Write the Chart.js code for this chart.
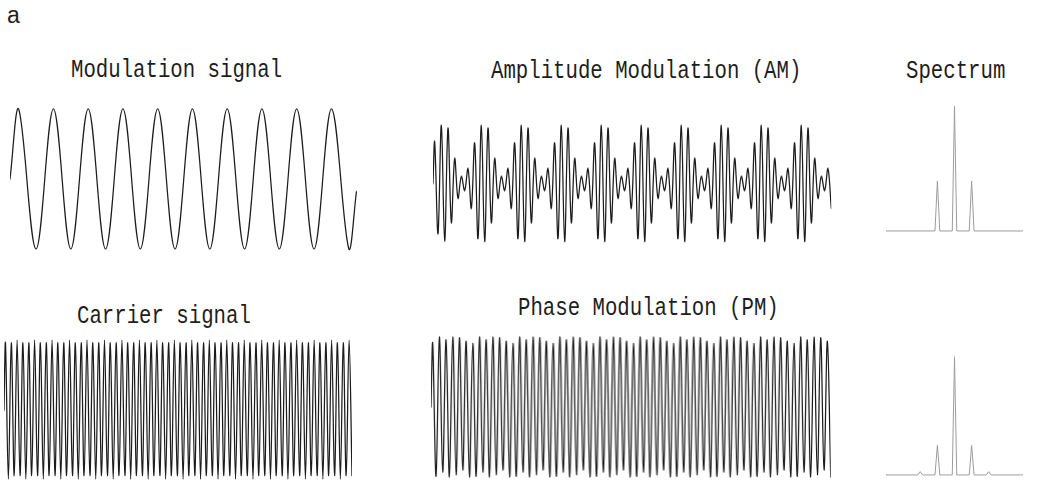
<!DOCTYPE html>
<html><head><meta charset="utf-8">
<script src="https://cdn.jsdelivr.net/npm/chart.js@4"></script>
<style>
html,body{margin:0;padding:0;background:#fff;}
body{width:1045px;height:480px;position:relative;overflow:hidden;}
.panel{position:absolute;}
.title{position:absolute;font-family:'Liberation Mono',monospace;font-size:20.7px;line-height:1;white-space:nowrap;color:#1e1e1e;transform-origin:left top;transform:scaleY(1.2);}
.lbl{position:absolute;font-family:'Liberation Sans',Arial,sans-serif;font-size:23px;line-height:1;color:#222;}
</style></head><body>
<div class="lbl" style="left:7px;top:3.8px">a</div>
<div class="title" style="left:71px;top:59.3px">Modulation signal</div>
<div class="title" style="left:491px;top:60.3px">Amplitude Modulation (AM)</div>
<div class="title" style="left:906px;top:60px">Spectrum</div>
<div class="title" style="left:77px;top:305px">Carrier signal</div>
<div class="title" style="left:518px;top:297px">Phase Modulation (PM)</div>
<script>
// ---- data ----
// time in modulation periods; values normalised to the peak amplitude
const modTimes = [0, 0.25, 0.75, 1.25, 1.75, 2.25, 2.75, 3.25, 3.75, 4.25, 4.75, 5.25, 5.75, 6.25, 6.75, 7.25, 7.75, 8.25, 8.75, 9.25, 9.75, 9.97];
const modValues = [0, 1, -1, 1, -1, 1, -1, 1, -1, 1, -1, 1, -1, 1, -1, 1, -1, 1, -1, 1, -1, -0.18];

// carrier-type signals: start sample then successive peaks / troughs (half-cycle samples)
const carrierValues = [0,
 1,-1.02,1,-0.97,1.04,-0.97, 1,-1.02,1,-0.97,1.04,-0.97, 1,-1.02,1,-0.97,1.04,-0.97, 1,-1.02,1,-0.97,1.04,-0.97,
 1,-1.02,1,-0.97,1.04,-0.97, 1,-1.02,1,-0.97,1.04,-0.97, 1,-1.02,1,-0.97,1.04,-0.97, 1,-1.02,1,-0.97,1.04,-0.97,
 1,-1.02,1,-0.97,1.04,-0.97, 1,-1.02,1,-0.97,1.04,-0.97, 1,-1.02,1,-0.97,1.04,-0.97, 1,-1.02,1,-0.97,1.04,-0.97,
 1,-1.02,1,-0.97,1.04,-0.97, 1,-1.02,1,-0.97,1.04,-0.97, 1,-1.02,1,-0.97,1.04,-0.97, 1,-1.02,1,-0.97,1.04,-0.97,
 1,-1.02,1,-0.97,1.04,-0.97, 1,-1.02,1,-0.97,1.04,-0.97, 1,-1.02,1,-0.97,1.04,-0.97, 1,-1.02,1,-0.97,1.04,-0.97];

const amValues = [0,
 0.70,-0.85,0.98,-0.97,0.93,-0.66,0.42,-0.25,0.12,-0.12,0.25,-0.42,
 0.68,-0.93,0.98,-0.98,0.93,-0.66,0.42,-0.25,0.12,-0.12,0.25,-0.42,
 0.68,-0.93,0.98,-0.98,0.93,-0.66,0.42,-0.25,0.12,-0.12,0.25,-0.42,
 0.68,-0.93,0.98,-0.98,0.93,-0.66,0.42,-0.25,0.12,-0.12,0.25,-0.42,
 0.68,-0.93,0.98,-0.98,0.93,-0.66,0.42,-0.25,0.12,-0.12,0.25,-0.42,
 0.68,-0.93,0.98,-0.98,0.93,-0.66,0.42,-0.25,0.12,-0.12,0.25,-0.42,
 0.68,-0.93,0.98,-0.98,0.93,-0.66,0.42,-0.25,0.12,-0.12,0.25,-0.42,
 0.68,-0.93,0.98,-0.98,0.93,-0.66,0.42,-0.25,0.12,-0.12,0.25,-0.42,
 0.68,-0.93,0.98,-0.98,0.93,-0.66,0.42,-0.25,0.12,-0.12,0.25,-0.42,
 0.68,-0.93,0.98,-0.98,0.93,-0.66,0.42,-0.25,0.12,-0.12,0.25,-0.42];

const pmValues = [0,
 0.91,-0.99,1,-0.93,0.96,-1,1,-0.97,0.99,-0.9,0.94,-1,
 0.91,-0.99,1,-0.93,0.96,-1,1,-0.97,0.99,-0.9,0.94,-1,
 0.91,-0.99,1,-0.93,0.96,-1,1,-0.97,0.99,-0.9,0.94,-1,
 0.91,-0.99,1,-0.93,0.96,-1,1,-0.97,0.99,-0.9,0.94,-1,
 0.91,-0.99,1,-0.93,0.96,-1,1,-0.97,0.99,-0.9,0.94,-1,
 0.91,-0.99,1,-0.93,0.96,-1,1,-0.97,0.99,-0.9,0.94,-1,
 0.91,-0.99,1,-0.93,0.96,-1,1,-0.97,0.99,-0.9,0.94,-1,
 0.91,-0.99,1,-0.93,0.96,-1,1,-0.97,0.99,-0.9,0.94,-1,
 0.91,-0.99,1,-0.93,0.96,-1,1,-0.97,0.99,-0.9,0.94,-1,
 0.91,-0.99,1,-0.93,0.96,-1,1,-0.97,0.99,-0.9,0.94,-1];

// spectra: frequency (cycles per window) and relative amplitude
const amSpecFreq = [20, 48.6, 50, 51.4, 58.7, 60, 61.3, 68.6, 70, 71.4, 100];
const amSpecAmp  = [0, 0, 0.40, 0, 0, 1.0, 0, 0, 0.40, 0, 0];
const pmSpecFreq = [20, 38.6, 40, 41.4, 48.6, 50, 51.4, 58.7, 60, 61.3, 68.6, 70, 71.4, 78.6, 80, 81.4, 100];
const pmSpecAmp  = [0, 0, 0.026, 0, 0, 0.235, 0, 0, 0.94, 0, 0, 0.235, 0, 0, 0.026, 0, 0];

// ---- helpers ----
function halfCycleTimes(n){ // start sample at t=0, then peaks/troughs every half carrier period
  return Array.from({length:n}, (_, i) => i === 0 ? 0 : 0.5 * i - 0.25);
}
function pts(xs, ys){ return xs.map((x, i) => ({x, y: ys[i]})); }

function panel(map, range, data, style){
  const pad = 4;
  const sx = (map.pxb - map.pxa) / (map.xb - map.xa);
  const sy = (map.pyb - map.pya) / (map.yb - map.ya);
  const left = map.pxa + (range.xmin - map.xa) * sx;
  const right = map.pxa + (range.xmax - map.xa) * sx;
  const top = map.pya + (range.ymax - map.ya) * sy;
  const bottom = map.pya + (range.ymin - map.ya) * sy;
  const div = document.createElement('div');
  div.className = 'panel';
  div.style.left = (left - pad) + 'px';
  div.style.top = (top - pad) + 'px';
  div.style.width = (right - left + 2 * pad) + 'px';
  div.style.height = (bottom - top + 2 * pad) + 'px';
  const c = document.createElement('canvas');
  div.appendChild(c);
  document.body.appendChild(div);
  new Chart(c, {
    type: 'line',
    data: { datasets: [{ data, borderColor: style.color, borderWidth: style.width, pointRadius: 0,
      tension: style.tension, fill: false, borderJoinStyle: 'round', borderCapStyle: 'round' }] },
    options: {
      responsive: true, maintainAspectRatio: false, animation: false, events: [],
      layout: { padding: pad },
      plugins: { legend: { display: false }, tooltip: { enabled: false }, title: { display: false } },
      scales: {
        x: { type: 'linear', display: false, min: range.xmin, max: range.xmax },
        y: { type: 'linear', display: false, min: range.ymin, max: range.ymax }
      }
    }
  });
}

const wave = { color: '#1c1c1c', width: 1.25, tension: 0.364 };
const spec = { color: '#9c9c9c', width: 1.0, tension: 0 };
const wr = { ymin: -1.1, ymax: 1.1 };

// Modulation signal
panel({xa:0, pxa:9.6, xb:10, pxb:357.1, ya:1, pya:109.3, yb:-1, pyb:248.3},
      {xmin:0, xmax:10, ...wr}, pts(modTimes, modValues), wave);
// AM
panel({xa:0, pxa:433, xb:59.75, pxb:831.3, ya:1, pya:124, yb:-1, pyb:242},
      {xmin:0, xmax:59.75, ...wr}, pts(halfCycleTimes(amValues.length), amValues), wave);
// Carrier
panel({xa:0, pxa:3.6, xb:59.75, pxb:351.6, ya:1, pya:343, yb:-1, pyb:477},
      {xmin:0, xmax:59.75, ...wr}, pts(halfCycleTimes(carrierValues.length), carrierValues), wave);
// PM
panel({xa:0, pxa:431, xb:59.75, pxb:829.7, ya:1, pya:337, yb:-1, pyb:477},
      {xmin:0, xmax:59.75, ...wr}, pts(halfCycleTimes(pmValues.length), pmValues), wave);
// Spectra
panel({xa:20, pxa:886, xb:100, pxb:1023, ya:0, pya:230.7, yb:1, pyb:106},
      {xmin:20, xmax:100, ymin:-0.05, ymax:1.05}, pts(amSpecFreq, amSpecAmp), spec);
panel({xa:20, pxa:886, xb:100, pxb:1023, ya:0, pya:474.3, yb:1, pyb:349.6},
      {xmin:20, xmax:100, ymin:-0.05, ymax:1.05}, pts(pmSpecFreq, pmSpecAmp), spec);
</script>
</body></html>
